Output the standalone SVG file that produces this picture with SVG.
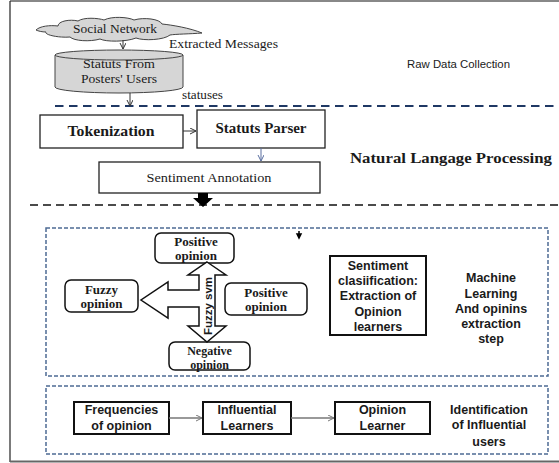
<svg xmlns="http://www.w3.org/2000/svg" width="559" height="463" viewBox="0 0 559 463">
<defs>
<marker id="v" markerWidth="8" markerHeight="8" refX="6" refY="3" orient="auto" markerUnits="userSpaceOnUse">
<path d="M0,0 L6,3 L0,6" fill="none" stroke="#333" stroke-width="1"/>
</marker>
<marker id="vb" markerWidth="8" markerHeight="8" refX="6" refY="3" orient="auto" markerUnits="userSpaceOnUse">
<path d="M0,0 L6,3 L0,6" fill="none" stroke="#5a6fa0" stroke-width="1"/>
</marker>
<marker id="vg" markerWidth="8" markerHeight="8" refX="6" refY="3" orient="auto" markerUnits="userSpaceOnUse">
<path d="M0,0 L6,3 L0,6" fill="none" stroke="#777" stroke-width="1"/>
</marker>
</defs>
<style>
.serif{font-family:"Liberation Serif","DejaVu Serif",serif;fill:#1a1a1a}
.sans{font-family:"Liberation Sans",Arial,sans-serif;fill:#1a1a1a}
.b{font-weight:bold}
.box{fill:#fff;stroke:#222;stroke-width:1.3}
.bbox{fill:#fff;stroke:#111;stroke-width:2}
.rbox{fill:#fff;stroke:#111;stroke-width:1.5}
.grp{fill:none;stroke:#4d6b94;stroke-width:1.5;stroke-dasharray:4 2}
.gray{fill:#d6d6d6;stroke:#444;stroke-width:1}
</style>
<rect width="559" height="463" fill="#fff"/>
<g id="frame">
<line x1="10" y1="1" x2="559" y2="1" stroke="#888" stroke-width="2"/>
<line x1="10" y1="1" x2="10" y2="462" stroke="#222" stroke-width="1.2"/>
<line x1="10" y1="461.5" x2="559" y2="461.5" stroke="#666" stroke-width="2"/>
</g>
<g id="separators">
<line x1="55" y1="106" x2="559" y2="106" stroke="#1f3864" stroke-width="2" stroke-dasharray="8.5 5.5"/>
<line x1="30" y1="205" x2="559" y2="205" stroke="#111" stroke-width="1.6" stroke-dasharray="8 5"/>
<rect class="grp" x="46" y="228" width="502" height="148"/>
<rect class="grp" x="46" y="386" width="502" height="68"/>
</g>
<g id="labels">
<text class="serif" x="169" y="48" font-size="13" textLength="109" lengthAdjust="spacingAndGlyphs">Extracted Messages</text>
<text class="serif" x="182" y="99" font-size="11.5" textLength="41" lengthAdjust="spacingAndGlyphs">statuses</text>
<text class="sans" x="407" y="68" font-size="11" textLength="103" lengthAdjust="spacingAndGlyphs">Raw Data Collection</text>
<text class="serif b" x="350" y="163" font-size="15" textLength="202" lengthAdjust="spacingAndGlyphs">Natural Langage Processing</text>
<text class="sans b" text-anchor="middle" font-size="12.5"><tspan x="491" y="282">Machine</tspan><tspan x="491" y="298">Learning</tspan><tspan x="491" y="313">And opinins</tspan><tspan x="491" y="328">extraction</tspan><tspan x="491" y="343">step</tspan></text>
<text class="sans b" text-anchor="middle" font-size="12.5"><tspan x="489" y="414">Identification</tspan><tspan x="489" y="429">of Influential</tspan><tspan x="489" y="446">users</tspan></text>
</g>
<g id="social-network">
<path class="gray" d="M36 30 C40 26 50 25 58 26 C58 21 70 19 78 21 C84 17 98 18 104 20 C112 16 128 17 134 20 C144 17 160 19 162 24 C172 25 190 28 202 33 C190 34 176 34 170 35 C164 40 144 41 136 38 C126 42 106 42 100 39 C90 42 74 41 70 37 C60 38 44 35 46 32 C42 32 38 31 36 30 Z"/>
<text class="serif" x="115" y="33" font-size="13.5" text-anchor="middle" textLength="84" lengthAdjust="spacingAndGlyphs">Social Network</text>
</g>
<g id="statuts-store">
<path class="gray" d="M55 55 L55 87 A64 6 0 0 0 183 87 L183 55"/>
<ellipse class="gray" cx="119" cy="55" rx="64" ry="5"/>
<text class="serif" x="119" y="68" font-size="13" text-anchor="middle" textLength="72" lengthAdjust="spacingAndGlyphs">Statuts From</text>
<text class="serif" x="119" y="83" font-size="13" text-anchor="middle" textLength="76" lengthAdjust="spacingAndGlyphs">Posters' Users</text>
</g>
<g id="tokenization">
<rect class="box" x="40" y="115" width="143" height="33"/>
<text class="serif b" x="111" y="136" font-size="14" text-anchor="middle" textLength="87" lengthAdjust="spacingAndGlyphs">Tokenization</text>
</g>
<g id="statuts-parser">
<rect class="box" x="197" y="110" width="128" height="38"/>
<text class="serif b" x="261" y="133" font-size="14" text-anchor="middle" textLength="91" lengthAdjust="spacingAndGlyphs">Statuts Parser</text>
</g>
<g id="sentiment-annotation">
<rect class="box" x="99" y="162" width="221" height="31"/>
<text class="serif" x="209" y="182" font-size="13" text-anchor="middle" textLength="125" lengthAdjust="spacingAndGlyphs">Sentiment Annotation</text>
</g>
<g id="positive-top">
<rect class="rbox" x="155" y="233" width="79" height="30" rx="6"/>
<text class="serif b" x="196" y="246" font-size="13" text-anchor="middle">Positive</text>
<text class="serif b" x="196" y="260" font-size="13" text-anchor="middle">opinion</text>
</g>
<g id="fuzzy-opinion">
<rect class="rbox" x="65" y="280" width="73" height="32" rx="6"/>
<text class="serif b" x="101.5" y="294" font-size="13" text-anchor="middle">Fuzzy</text>
<text class="serif b" x="101.5" y="308" font-size="13" text-anchor="middle">opinion</text>
</g>
<g id="positive-right">
<rect class="rbox" x="225" y="283" width="82" height="32" rx="6"/>
<text class="serif b" x="266" y="297" font-size="13" text-anchor="middle">Positive</text>
<text class="serif b" x="266" y="311" font-size="13" text-anchor="middle">opinion</text>
</g>
<g id="negative-opinion">
<rect class="rbox" x="169" y="342" width="81" height="28" rx="6"/>
<text class="serif b" x="209.5" y="354.5" font-size="12" text-anchor="middle">Negative</text>
<text class="serif b" x="209.5" y="368.5" font-size="12" text-anchor="middle">opinion</text>
</g>
<g id="fuzzy-svm">
<path d="M207 262 L226 275 L215 275 L215 326 L226 326 L207 342 L188 326 L199 326 L199 307 L168 307 L168 318 L141 300 L168 282 L168 290 L199 290 L199 275 L188 275 Z" fill="#fff" stroke="#111" stroke-width="1.5" stroke-linejoin="miter"/>
<text class="sans b" font-size="11.5" text-anchor="middle" transform="translate(211.5 306) rotate(-90)">Fuzzy svm</text>
</g>
<g id="sentiment-classification">
<rect class="bbox" x="330" y="256" width="96" height="79"/>
<text class="sans b" text-anchor="middle" font-size="12.5"><tspan x="378" y="270">Sentiment</tspan><tspan x="378" y="285">clasiification:</tspan><tspan x="378" y="300">Extraction of</tspan><tspan x="378" y="316">Opinion</tspan><tspan x="378" y="331">learners</tspan></text>
</g>
<g id="frequencies">
<rect class="bbox" x="74" y="402" width="95" height="32"/>
<text class="sans b" text-anchor="middle" font-size="12.5"><tspan x="121.5" y="414">Frequencies</tspan><tspan x="121.5" y="430">of opinion</tspan></text>
</g>
<g id="influential-learners">
<rect class="bbox" x="203" y="402" width="88" height="32"/>
<text class="sans b" text-anchor="middle" font-size="12.5"><tspan x="247" y="414">Influential</tspan><tspan x="247" y="430">Learners</tspan></text>
</g>
<g id="opinion-learner">
<rect class="bbox" x="335" y="402" width="95" height="32"/>
<text class="sans b" text-anchor="middle" font-size="12.5"><tspan x="382.5" y="414">Opinion</tspan><tspan x="382.5" y="430">Learner</tspan></text>
</g>
<g id="connectors">
<line x1="123" y1="40" x2="123" y2="49" stroke="#333" marker-end="url(#v)"/>
<line x1="130" y1="93" x2="130" y2="106" stroke="#333" marker-end="url(#v)"/>
<line x1="183" y1="131" x2="196" y2="131" stroke="#333" marker-end="url(#v)"/>
<line x1="261" y1="148" x2="261" y2="161" stroke="#5a6fa0" marker-end="url(#vb)"/>
<path d="M198 193 L208 193 L208 198 L213 198 L203 207 L193 198 L198 198 Z" fill="#000"/>
<path d="M299 231 L299 235 M297 234 L299 238 L301 234 Z" stroke="#000" stroke-width="1.5" fill="#000"/>
<line x1="169" y1="418" x2="202" y2="418" stroke="#777" stroke-width="1.3" marker-end="url(#vg)"/>
<line x1="291" y1="418" x2="334" y2="418" stroke="#777" stroke-width="1.3" marker-end="url(#vg)"/>
</g>
</svg>
